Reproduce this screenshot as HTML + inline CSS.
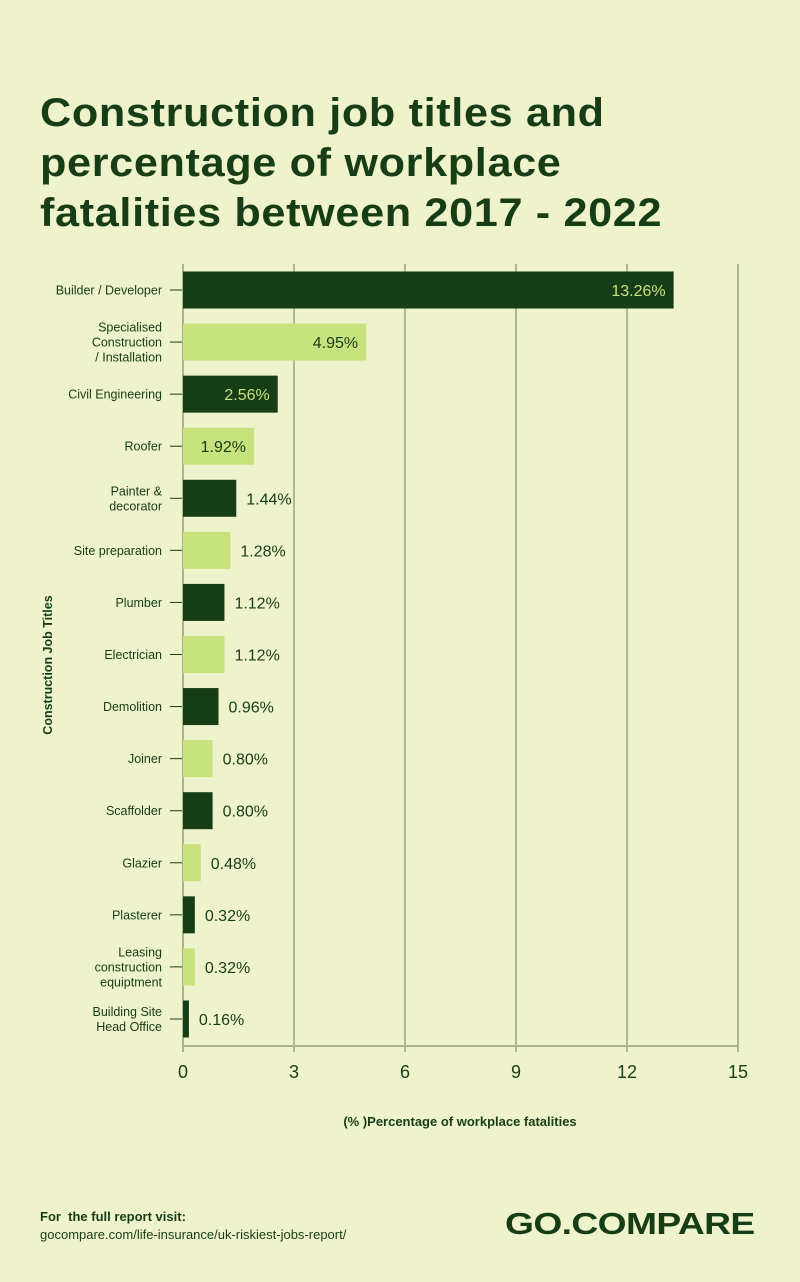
<!DOCTYPE html>
<html><head><meta charset="utf-8"><style>
body{margin:0;background:#eef3cc;width:800px;height:1282px;overflow:hidden;font-family:"Liberation Sans",sans-serif;color:#173d16}
#t{position:absolute;left:40px;top:88px;font-size:40px;font-weight:900;line-height:50px;letter-spacing:0.6px;margin:0;color:#173d16;transform:scaleX(1.08);transform-origin:left top;white-space:nowrap}
svg{position:absolute;left:0;top:0}
</style></head><body>
<h1 id="t">Construction job titles and<br>percentage of workplace<br>fatalities between 2017 - 2022</h1>
<svg id="c" width="800" height="1282"></svg>
<div style="position:absolute;left:40px;top:1208px;font-size:13px;line-height:18px;color:#173d16"><b>For&nbsp; the full report visit:</b><br>gocompare.com/life-insurance/uk-riskiest-jobs-report/</div>
<div style="position:absolute;left:505px;top:1206px;font-size:31px;font-weight:900;letter-spacing:-0.5px;color:#173d16;transform:scaleX(1.2);transform-origin:left top">GO.COMPARE</div>
<script>
const categories=[["Builder / Developer"],["Specialised","Construction","/ Installation"],["Civil Engineering"],["Roofer"],["Painter &","decorator"],["Site preparation"],["Plumber"],["Electrician"],["Demolition"],["Joiner"],["Scaffolder"],["Glazier"],["Plasterer"],["Leasing","construction","equiptment"],["Building Site","Head Office"]];
const values=[13.26,4.95,2.56,1.92,1.44,1.28,1.12,1.12,0.96,0.80,0.80,0.48,0.32,0.32,0.16];
const labels=["13.26%","4.95%","2.56%","1.92%","1.44%","1.28%","1.12%","1.12%","0.96%","0.80%","0.80%","0.48%","0.32%","0.32%","0.16%"];
const ticks=[0,3,6,9,12,15];
const svg=document.getElementById('c'),NS="http://www.w3.org/2000/svg";
const X0=183,X1=738,XMAX=15,Y0=290,STEP=52.07,BH=37,GTOP=264,AXY=1046;
const xs=v=>X0+v/XMAX*(X1-X0), ys=i=>Y0+i*STEP;
function mk(t,a,txt){const e=document.createElementNS(NS,t);for(const k in a)e.setAttribute(k,a[k]);if(txt!=null)e.textContent=txt;svg.appendChild(e);return e;}
ticks.forEach(t=>{
 const g=mk('line',{x1:xs(t),x2:xs(t),y1:GTOP,y2:AXY+6,stroke:t==0?'#a8b48c':'#6f7a60','stroke-width':t==0?2:1});
 
 
 const l=mk('text',{x:xs(t),y:AXY+32,'text-anchor':'middle','font-size':18,fill:'#173d16'},t);
 
 
});
const ax=mk('line',{x1:X0,x2:X1,y1:AXY,y2:AXY,stroke:'#a8b48c','stroke-width':2});


values.forEach((v,i)=>{
 const dark=i%2==0, cy=ys(i);
 const r=mk('rect',{x:X0,y:cy-BH/2,width:xs(v)-X0,height:BH,fill:dark?'#173d16':'#c8e27d'});
 
 
 mk('line',{x1:170,x2:182,y1:cy,y2:cy,stroke:'#173d16','stroke-width':1});
 const inside=xs(v)-X0>60;
 const t=mk('text',{x:inside?xs(v)-8:xs(v)+10,y:cy+6,'text-anchor':inside?'end':'start','font-size':16,fill:inside&&dark?'#c8e27d':'#173d16'},labels[i]);
 
 
 const c=categories[i],n=c.length;
 c.forEach((s,j)=>{
  const ct=mk('text',{x:162,y:cy+4.5+(j-(n-1)/2)*15,'text-anchor':'end','font-size':12.5,fill:'#173d16'},s);
  
  
 });
});
const yt=mk('text',{x:0,y:0,transform:'translate(52,665) rotate(-90)','text-anchor':'middle','font-size':12.5,'font-weight':'bold',fill:'#173d16'},'Construction Job Titles');


const xt=mk('text',{x:460,y:1126,'text-anchor':'middle','font-size':13,'font-weight':'bold',fill:'#173d16'},'(% )Percentage of workplace fatalities');


</script>
</body></html>
